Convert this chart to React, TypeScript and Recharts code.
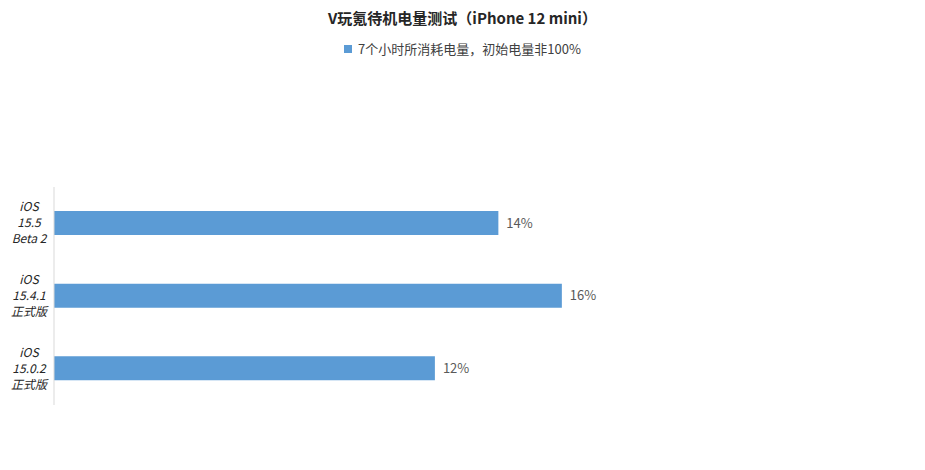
import { BarChart, Bar, XAxis, YAxis, LabelList } from "recharts";

const versions = ["iOS\n15.5\nBeta 2", "iOS\n15.4.1\n正式版", "iOS\n15.0.2\n正式版"];
const drain = [14, 16, 12];
const seriesName = "7个小时所消耗电量，初始电量非100%";

const data = versions.map((v, i) => ({ version: v, drain: drain[i] }));

const FONT = '"Noto Sans CJK SC", "Noto Sans", sans-serif';

const VersionTick = (props: any) => {
  const { y, payload } = props;
  const lines = String(payload.value).split("\n");
  return (
    <text
      x={29}
      y={y}
      textAnchor="middle"
      fill="#262626"
      fontSize={12}
      fontStyle="italic"
      fontFamily={FONT}
    >
      {lines.map((l, i) => (
        <tspan key={i} x={29} dy={i === 0 ? -12 : 16}>
          {l}
        </tspan>
      ))}
    </text>
  );
};

export default function App() {
  return (
    <div
      style={{
        position: "fixed",
        left: 0,
        top: 0,
        width: 925,
        height: 470,
        background: "#fff",
        fontFamily: FONT,
      }}
    >
      <div
        style={{
          position: "absolute",
          top: 7,
          left: 0,
          width: 925,
          textAlign: "center",
          fontSize: 15,
          fontWeight: "bold",
          color: "#262626",
        }}
      >
        V玩氪待机电量测试（iPhone 12 mini）
      </div>
      <div
        style={{
          position: "absolute",
          top: 39,
          left: 0,
          width: 925,
          display: "flex",
          alignItems: "center",
          justifyContent: "center",
          fontSize: 13,
          color: "#404040",
        }}
      >
        <span style={{ width: 8, height: 8, background: "#5B9BD5", marginRight: 6 }} />
        {seriesName}
      </div>
      <BarChart
        width={925}
        height={470}
        data={data}
        layout="vertical"
        barSize={24}
        margin={{ top: 187, right: 14, bottom: 65, left: 0 }}
      >
        <XAxis type="number" hide domain={[0, 27]} />
        <YAxis
          type="category"
          dataKey="version"
          width={54}
          axisLine={{ stroke: "#D9D9D9" }}
          tickLine={false}
          tick={<VersionTick />}
          interval={0}
        />
        <Bar dataKey="drain" name={seriesName} fill="#5B9BD5" isAnimationActive={false}>
          <LabelList
            dataKey="drain"
            position="right"
            offset={8}
            fill="#595959"
            fontSize={13}
            fontFamily={FONT}
            formatter={(v: any) => `${v}%`}
          />
        </Bar>
      </BarChart>
    </div>
  );
}
